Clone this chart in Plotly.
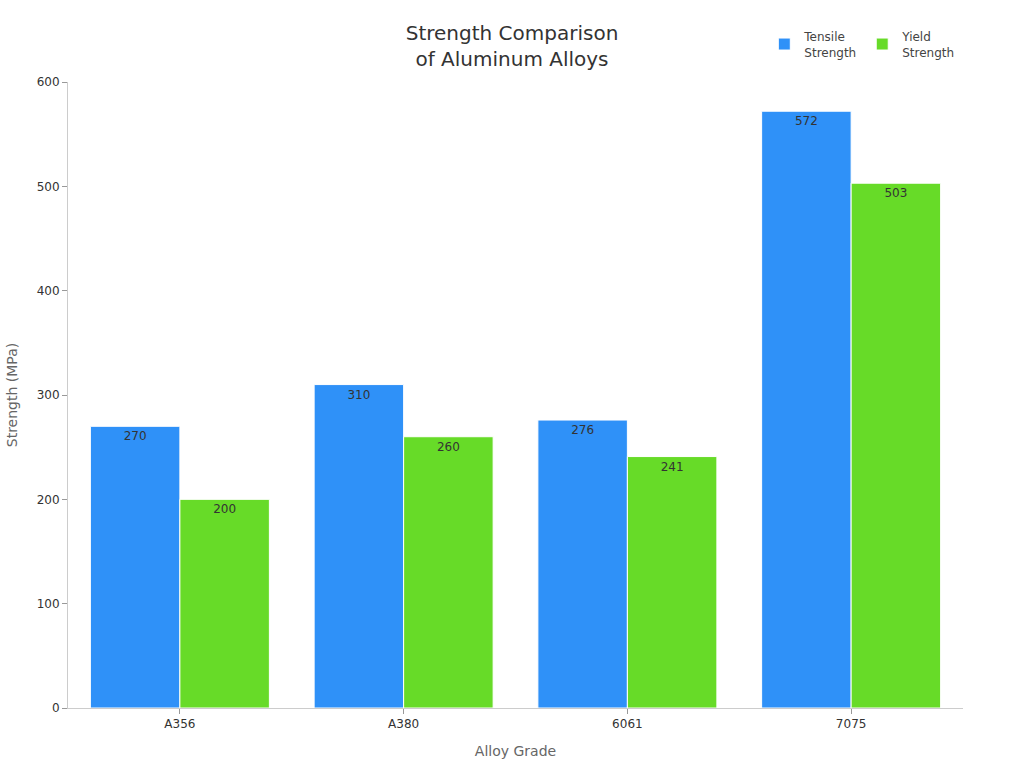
import plotly.graph_objects as go

categories = ["A356", "A380", "6061", "7075"]
tensile = [270, 310, 276, 572]
yield_s = [200, 260, 241, 503]
series_names = ["Tensile<br>Strength", "Yield<br>Strength"]
colors = ["#2F91F8", "#67DB28"]

fig = go.Figure()
for name, vals, col in zip(series_names, [tensile, yield_s], colors):
    fig.add_trace(go.Bar(
        x=categories, y=vals, name=name,
        marker=dict(color=col, line=dict(color="white", width=1)),
        text=[str(v) for v in vals], textposition="inside", insidetextanchor="end",
        textfont=dict(color="#333333", size=12, family="DejaVu Sans"),
        textangle=0,
    ))

fig.update_layout(
    width=1024, height=768,
    barmode="group", bargap=0.2, bargroupgap=0,
    paper_bgcolor="white", plot_bgcolor="white",
    font=dict(family="DejaVu Sans", color="#333333", size=12),
    title=dict(text="Strength Comparison<br>of Aluminum Alloys", x=0.5, xanchor="center",
               y=1 - 40 / 768, yanchor="middle", font=dict(size=20, color="#333333")),
    margin=dict(l=68, r=61, t=82, b=60, autoexpand=False),
    legend=dict(orientation="h", x=0.778, xanchor="left", y=1.06, yanchor="middle",
                font=dict(size=12, color="#444444"), itemwidth=30),
    xaxis=dict(title=dict(text="Alloy Grade", font=dict(size=14, color="#666666")),
               showline=True, linecolor="#cccccc", linewidth=1,
               ticks="outside", tickcolor="#999999", ticklen=5,
               tickfont=dict(size=12, color="#333333"), showgrid=False),
    yaxis=dict(title=dict(text="Strength (MPa)", font=dict(size=14, color="#666666")),
               range=[0, 600], dtick=100,
               showline=True, linecolor="#cccccc", linewidth=1,
               ticks="outside", tickcolor="#999999", ticklen=5,
               tickfont=dict(size=12, color="#333333"), showgrid=False, zeroline=False),
    uniformtext=dict(minsize=12, mode="show"),
)

fig.write_html("out.html")
